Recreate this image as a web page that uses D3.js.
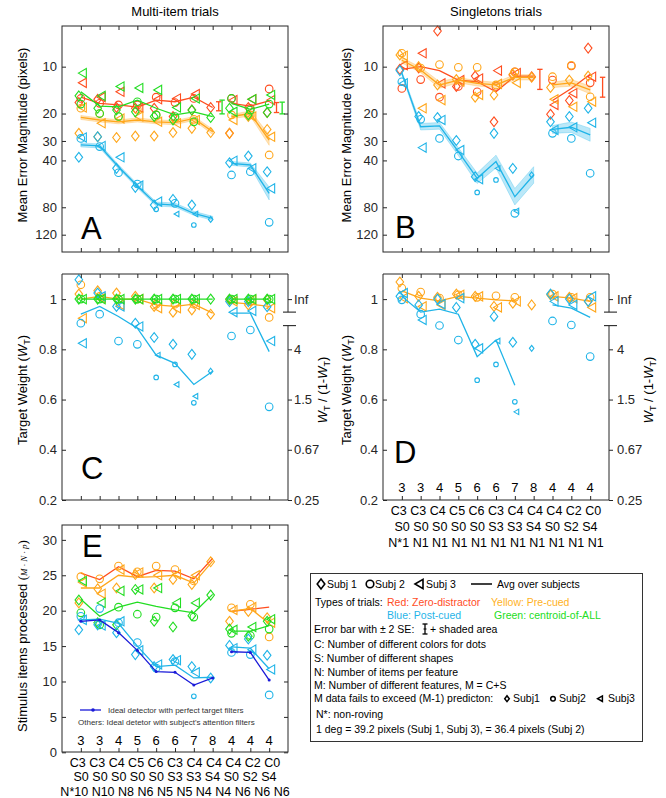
<!DOCTYPE html>
<html><head><meta charset="utf-8">
<script src="https://cdn.jsdelivr.net/npm/d3@7"></script>
<style>
body{margin:0;background:#fff}
svg{display:block}
text{font-family:"Liberation Sans",Arial,Helvetica,sans-serif}
</style>
</head><body>
<svg id="chart" width="666" height="798"></svg>
<script>
// ---------- categories / tick labels ----------
const catM = ["3","3","4","5","6","6","7","8","4","4","4"];
const catC = ["C3","C3","C4","C5","C6","C3","C4","C4","C4","C2","C0"];
const catS = ["S0","S0","S0","S0","S0","S3","S3","S4","S0","S2","S4"];
const catNmulti = ["N*10","N10","N8","N6","N5","N5","N4","N4","N6","N6","N6"];
const catNsingle = ["N*1","N1","N1","N1","N1","N1","N1","N1","N1","N1","N1"];
const errTicks = [10,20,30,40,80,120];
const wTicks = [0.2,0.4,0.6,0.8,1];
const wTickLabels = ["0.2","0.4","0.6","0.8","1"];
const ratioTickLabels = ["0.25","0.67","1.5","4","Inf"];
const itemTicks = [0,5,10,15,20,25,30];

// ---------- Panel A: multi-item, mean error magnitude (pixels) ----------
const A_red_s1 = [17.0,16.2,18.3,18.5,18.5,20.9,19.0,18.3,26.8,18.3,19.7];
const A_red_s2 = [16.0,17.2,17.6,17.6,15.7,17.0,16.0,null,16.0,18.5,13.9];
const A_red_s3 = [12.7,15.7,14.5,18.3,16.2,16.0,15.0,null,16.4,16.2,16.4];
const A_red_avg = [15.7,17.2,17.6,18.2,16.4,16.8,15.7,18.3,17.2,17.9,16.6];
const A_yel_s1 = [26.8,28.2,28.5,27.9,27.9,26.5,24.9,26.5,26.8,20.9,25.3];
const A_yel_s2 = [18.5,20.0,20.9,18.8,20.4,21.5,21.8,null,20.4,20.4,36.9];
const A_yel_s3 = [18.3,23.1,21.5,20.9,22.6,23.1,22.0,null,22.0,20.9,28.2];
const A_yel_avg = [21.2,22.0,22.6,22.0,22.6,22.9,21.5,26.2,20.9,20.0,29.6];
const A_yel_se = [3,3,3,3,3,3,3,4,3,4,8];
const A_blu_s1 = [38.2,28.2,45.0,59.6,77.4,71.2,77.4,95.7,41.4,37.5,47.3];
const A_blu_s2 = [28.9,32.6,48.0,56.7,82.5,75.5,104,null,49.6,47.3,100];
const A_blu_s3 = [28.5,32.3,38.2,58.1,73.6,88.4,88.4,null,40.2,45.0,60.5];
const A_blu_avg = [31.8,32.3,43.9,58.4,76.2,77.4,87.5,94.2,41.8,42.8,65.2];
const A_blu_se = [3,3,3,3,3,3,3,3,3,3,10];
const A_grn_s1 = [15.4,18.5,19.0,19.5,20.9,22.0,19.0,21.2,18.5,20.4,19.7];
const A_grn_s2 = [17.4,20.0,20.9,16.8,20.4,20.9,22.6,null,16.0,19.0,17.4];
const A_grn_s3 = [11.0,15.4,13.4,13.7,14.1,18.3,16.0,null,19.5,16.2,15.2];
const A_grn_avg = [14.5,17.9,18.1,16.4,18.5,20.4,19.5,20.9,17.2,18.8,17.4];
const A_err_red = [[16.8,19.2],[17.0,19.7]];
const A_err_grn = [[16.4,20.1],[16.9,20.1]];
const smallA = ["blu.s2.5","blu.s3.6","blu.s2.7","blu.s3.7","blu.s1.8"];

// ---------- Panel B: singletons, mean error magnitude ----------
const B_red_s1 = [10.4,10.2,5.9,13.4,11.5,22.6,11.3,11.6,20.2,16.5,7.6];
const B_red_s2 = [13.8,12.1,15.7,13.4,14.5,13.4,10.8,null,12.2,9.9,12.7];
const B_red_s3 = [9.8,8.2,12.8,12.2,11.9,10.6,11.0,null,17.6,14.8,11.6];
const B_red_avg = [10.4,10.0,10.6,12.2,12.5,14.5,11.5,11.5,16.5,13.8,11.2];
const B_yel_s1 = [8.4,10.0,13.1,12.1,15.7,15.2,11.2,11.7,13.6,12.2,11.5];
const B_yel_s2 = [8.2,10.2,9.7,10.1,10.1,13.1,10.8,null,11.6,9.8,15.6];
const B_yel_s3 = [8.5,18.5,16.4,12.5,15.2,12.9,12.7,null,16.2,18.1,16.8];
const B_yel_avg = [9.1,10.5,13.1,12.2,12.8,13.1,11.7,11.7,13.1,12.7,14.1];
const B_yel_se = [4,4,5,4,4,4,4,4,4,5,6];
const B_blu_s1 = [10.6,20.9,21.2,29.8,50.9,26.8,45.0,49.6,22.6,20.9,18.5];
const B_blu_s2 = [12.5,21.8,28.9,37.5,64.2,53.4,87.5,null,26.8,28.9,48.4];
const B_blu_s3 = [12.8,33.1,22.0,34.3,52.8,45.0,84.5,null,25.5,24.5,22.9];
const B_blu_avg = [11.0,24.3,24.0,35.1,52.1,40.7,68.4,49.6,25.3,24.5,27.4];
const B_blu_se = [2.5,5,5,6,8,10,13,13,6,8,10];
const B_err_red = [[10.4,14.0],[11.7,15.7]];
const smallB = ["blu.s2.5","blu.s2.6","blu.s3.6","blu.s3.7","blu.s1.8"];

// ---------- Panel C: multi-item, target weight ----------
const C_yel_s1 = [1.02,1.033,1.024,1.011,0.971,0.948,0.957,0.94,0.997,0.977,0.997];
const C_yel_s2 = [1.057,1.011,1.0,1.0,0.98,0.98,0.98,null,0.997,0.99,0.927];
const C_yel_s3 = [0.924,1.004,0.977,1.0,0.964,0.964,0.977,null,0.991,0.997,0.964];
const C_yel_avg = [1.0,1.011,1.0,1.0,0.977,0.971,0.98,0.944,0.987,0.98,0.971];
const C_blu_s1 = [1.077,1.024,0.971,0.904,0.847,0.82,0.78,0.713,0.99,0.99,0.97];
const C_blu_s2 = [0.904,0.94,0.833,0.82,0.688,0.74,0.587,null,0.853,0.877,0.571];
const C_blu_s3 = [0.824,1.011,0.971,0.891,0.777,0.66,0.613,null,0.948,0.953,0.833];
const C_blu_avg = [0.94,0.971,0.931,0.884,0.777,0.744,0.66,0.713,0.944,0.944,0.791];
const C_grn_s1 = [1,1,1,1,1,1,1,1,1,1,1];
const C_grn_s2 = [1,1,1,1,1,1,1,null,1,1,1];
const C_grn_s3 = [1,1,1,1,1,1,1,null,1,1,1];
const C_grn_avg = [1,1,1,1,1,1,1,1,1,1,1];
const smallC = ["blu.s2.5","blu.s3.5","blu.s2.6","blu.s3.6","blu.s2.7","blu.s3.7","blu.s1.8"];

// ---------- Panel D: singletons, target weight ----------
const D_yel_s1 = [1.068,1.011,1.007,1.02,1.011,0.971,0.984,0.977,1.017,1.007,0.991];
const D_yel_s2 = [1.044,1.028,1.004,1.017,1.007,1.013,1.007,null,1.02,1.007,1.007];
const D_yel_s3 = [1.004,0.971,0.977,1.017,1.011,0.967,0.991,null,1.011,1.004,0.967];
const D_yel_avg = [1.033,1.004,0.993,1.011,1.004,0.997,0.993,null,1.011,1.004,0.991];
const D_blu_s1 = [1.011,0.977,1.0,0.967,0.82,0.931,0.828,0.804,1.02,1.0,0.991];
const D_blu_s2 = [0.997,0.94,0.895,0.837,0.677,0.74,0.591,null,0.913,0.897,0.771];
const D_blu_s3 = [1.024,0.917,0.98,1.004,0.804,0.833,0.551,null,0.991,0.977,1.011];
const D_blu_avg = [1.011,0.948,0.96,0.94,0.771,0.837,0.657,null,0.977,0.964,0.927];
const smallD = ["blu.s2.5","blu.s2.6","blu.s3.6","blu.s2.7","blu.s3.7","blu.s1.8"];

// ---------- Panel E: stimulus items processed ----------
const E_red_avg = [25.3,24.4,26.2,24.8,25.7,25.6,24.5,27.4,19.9,20.2,20.5];
const E_yel_s1 = [21.1,23.1,23.2,25.1,23.2,24.4,23.7,26.9,18.5,19.9,19.0];
const E_yel_s2 = [24.8,24.5,26.3,25.5,26.3,25.8,24.2,null,20.4,20.9,16.3];
const E_yel_s3 = [24.0,22.4,25.8,25.4,25.0,25.1,25.0,null,20.1,20.5,18.3];
const E_yel_avg = [23.2,23.2,25.0,24.7,24.8,25.0,23.9,27.0,19.9,20.3,18.2];
const E_grn_s1 = [21.5,18.3,18.0,23.0,18.5,17.7,19.3,22.2,17.4,16.4,18.5];
const E_grn_s2 = [19.7,18.0,20.5,19.5,19.1,20.4,19.1,null,16.8,16.5,17.4];
const E_grn_s3 = [24.2,21.1,22.8,23.0,23.2,21.1,21.1,null,17.3,17.7,18.8];
const E_grn_avg = [21.6,19.2,20.5,21.2,20.6,20.1,19.7,22.3,17.1,17.1,17.9];
const E_blu_s1 = [17.3,18.0,16.9,13.8,12.1,13.1,12.1,10.5,15.1,16.0,13.7];
const E_blu_s2 = [19.2,20.3,18.3,15.5,11.9,12.8,7.9,null,14.1,13.8,8.1];
const E_blu_s3 = [18.7,17.9,18.5,14.4,12.4,13.0,11.3,null,14.7,14.5,11.7];
const E_blu_avg = [18.7,18.8,18.2,15.0,12.1,12.3,10.5,10.6,14.9,14.7,11.8];
const E_ideal = [18.5,18.7,16.9,14.4,11.4,11.3,9.5,10.5,14.2,14.1,10.2];
const smallE = ["blu.s2.7"];

// ---------- styling ----------
const COL = {red:"#ff4d1f", yel:"#ffa61a", blu:"#1fb4e8", grn:"#22dd22", ideal:"#1a1ad8"};
const AX = "#262626";
const svg = d3.select("#chart");
const idx = d3.range(1,12);
const SEGS = [[0,8],[8,11]];
const OFF = {d:-2, c:0, t:1.5};

function markerPath(type, small){
  const k = small ? 0.6 : 1;
  if(type==="d"){const w=3.8*k,h=4.9*k;return `M0,${-h}L${w},0L0,${h}L${-w},0Z`;}
  if(type==="t"){const w=4*k,h=4.6*k;return `M${-w},0L${w},${-h}L${w},${h}Z`;}
  return null;
}
function drawMarker(g, cx, cy, type, small, col, sw){
  if(type==="c"){
    g.append("circle").attr("cx",cx).attr("cy",cy).attr("r",small?2.3:3.8)
      .attr("fill","none").attr("stroke",col).attr("stroke-width",sw||1.1);
  } else {
    g.append("path").attr("transform",`translate(${cx},${cy})`).attr("d",markerPath(type,small))
      .attr("fill","none").attr("stroke",col).attr("stroke-width",sw||1.1).attr("stroke-linejoin","miter");
  }
}

function drawSeries(g, x, y, s, smallSet, isLog){
  const col = COL[s.c];
  if(s.se){
    SEGS.forEach(([a,b])=>{
      const pts = d3.range(a,b).filter(i=>s.avg[i]!=null).map(i=>({i,v:s.avg[i],k:s.se[i]/100}));
      const area = d3.area().x(d=>x(d.i+1))
        .y0(d=>y(isLog? d.v/(1+d.k) : d.v*(1-d.k))).y1(d=>y(d.v*(1+d.k)));
      g.append("path").datum(pts).attr("d",area).attr("fill",col).attr("fill-opacity",0.3)
        .attr("stroke",col).attr("stroke-opacity",0.45).attr("stroke-width",0.6);
    });
  }
  if(s.s){
    ["d","c","t"].forEach((m,si)=>{
      const arr = s.s[si];
      arr.forEach((v,i)=>{
        if(v==null) return;
        const sm = smallSet.includes(`${s.c}.s${si+1}.${i+1}`);
        drawMarker(g, x(i+1)+OFF[m], y(v), m, sm, col);
      });
    });
  }
  SEGS.forEach(([a,b])=>{
    const pts = d3.range(a,b).filter(i=>s.avg[i]!=null).map(i=>({i,v:s.avg[i]}));
    g.append("path").datum(pts).attr("d",d3.line().x(d=>x(d.i+1)).y(d=>y(d.v)))
      .attr("fill","none").attr("stroke",col).attr("stroke-width",1.3);
    if(s.dots){
      pts.forEach(d=>g.append("circle").attr("cx",x(d.i+1)).attr("cy",y(d.v)).attr("r",1.5).attr("fill",col));
    }
  });
}

function styleAxis(sel){
  sel.select(".domain").remove();
  sel.selectAll("line").attr("stroke",AX).attr("stroke-width",1);
  sel.selectAll("text").attr("fill",AX).attr("font-size",13)
    .attr("font-family",'"Liberation Sans",Arial,sans-serif');
}

function panel(p){
  const g = svg.append("g");
  const x = d3.scaleLinear().domain([0,12]).range([p.x0,p.x0+p.w]);
  const y = p.y;
  const x1 = p.x0+p.w, yb = p.y0+p.h;
  p.series.forEach(s=>drawSeries(g,x,y,s,p.small,p.log));
  (p.err||[]).forEach(e=>{
    e.v.forEach((lh,k)=>{
      const xx = x((k===0?8:11)+e.off[k]);
      const ya=y(lh[0]), yb2=y(lh[1]);
      g.append("line").attr("x1",xx).attr("x2",xx).attr("y1",ya).attr("y2",yb2).attr("stroke",COL[e.c]).attr("stroke-width",1.3);
      [ya,yb2].forEach(yy=>g.append("line").attr("x1",xx-2.7).attr("x2",xx+2.7).attr("y1",yy).attr("y2",yy).attr("stroke",COL[e.c]).attr("stroke-width",1.3));
    });
  });
  g.append("g").attr("transform",`translate(${p.x0},0)`)
    .call(d3.axisLeft(y).tickValues(p.ticks).tickFormat((d,i)=>p.tickLabels[i]).tickSize(-4).tickPadding(5))
    .call(styleAxis);
  g.append("g").attr("transform",`translate(0,${p.y0})`)
    .call(d3.axisTop(x).tickValues(idx).tickFormat("").tickSize(-4)).call(styleAxis);
  g.append("g").attr("transform",`translate(0,${yb})`)
    .call(d3.axisBottom(x).tickValues(idx).tickFormat("").tickSize(-4)).call(styleAxis);
  if(p.ratio){
    g.append("g").attr("transform",`translate(${x1},0)`)
      .call(d3.axisRight(y).tickValues(p.ticks).tickFormat((d,i)=>ratioTickLabels[i]).tickSize(4).tickPadding(p.ratioPad))
      .call(styleAxis);
    const b1 = y(1)+13, b2 = y(1)+26.5;
    g.append("line").attr("x1",p.x0).attr("x2",x1).attr("y1",p.y0).attr("y2",p.y0).attr("stroke",AX);
    g.append("line").attr("x1",p.x0).attr("x2",x1).attr("y1",yb).attr("y2",yb).attr("stroke",AX);
    g.append("line").attr("x1",p.x0).attr("x2",p.x0).attr("y1",p.y0).attr("y2",yb).attr("stroke",AX);
    g.append("line").attr("x1",x1).attr("x2",x1).attr("y1",p.y0).attr("y2",b1).attr("stroke",AX);
    g.append("line").attr("x1",x1).attr("x2",x1).attr("y1",b2).attr("y2",yb).attr("stroke",AX);
    [b1,b2].forEach(bb=>g.append("line").attr("x1",x1-5).attr("x2",x1+8).attr("y1",bb).attr("y2",bb).attr("stroke",AX).attr("stroke-width",1.1));
  } else {
    g.append("g").attr("transform",`translate(${x1},0)`)
      .call(d3.axisRight(y).tickValues(p.ticks).tickFormat("").tickSize(-4)).call(styleAxis);
    g.append("rect").attr("x",p.x0).attr("y",p.y0).attr("width",p.w).attr("height",p.h)
      .attr("fill","none").attr("stroke",AX).attr("stroke-width",1);
  }
  g.append("text").attr("x",p.lx).attr("y",p.ly).attr("font-size",31).attr("fill","#000").text(p.letter);
  if(p.cats){
    catM.forEach((m,i)=>g.append("text").attr("x",x(i+1)).attr("y",p.catY).attr("text-anchor","middle")
      .attr("font-size",13).attr("fill","#000").text(m));
    // category description rows, each written as one line of text centred under the panel
    [catC,catS,p.catN].forEach((row,r)=>g.append("text").attr("x",x(6)).attr("y",p.rowY[r])
      .attr("text-anchor","middle").attr("font-size",12.5).attr("fill","#000")
      .attr("xml:space","preserve").text(row.join(" ")));
  }
  return {g,x,y};
}

const yW = y0 => d3.scaleLinear().domain([0.2,1.1]).range([y0+226,y0]);

panel({x0:62,y0:26,w:226,h:226,y:d3.scaleLog().domain([5.48,155]).range([26,252]),log:true,ticks:errTicks,tickLabels:errTicks.map(String),
  series:[
    {c:"red",s:[A_red_s1,A_red_s2,A_red_s3],avg:A_red_avg},
    {c:"yel",s:[A_yel_s1,A_yel_s2,A_yel_s3],avg:A_yel_avg,se:A_yel_se},
    {c:"blu",s:[A_blu_s1,A_blu_s2,A_blu_s3],avg:A_blu_avg,se:A_blu_se},
    {c:"grn",s:[A_grn_s1,A_grn_s2,A_grn_s3],avg:A_grn_avg}],
  err:[{c:"red",v:A_err_red,off:[0.32,0.39]},{c:"grn",v:A_err_grn,off:[0.5,0.69]}],
  small:smallA,letter:"A",lx:81,ly:239});

panel({x0:383,y0:26,w:226,h:226,y:d3.scaleLog().domain([5.48,155]).range([26,252]),log:true,ticks:errTicks,tickLabels:errTicks.map(String),
  series:[
    {c:"red",s:[B_red_s1,B_red_s2,B_red_s3],avg:B_red_avg},
    {c:"yel",s:[B_yel_s1,B_yel_s2,B_yel_s3],avg:B_yel_avg,se:B_yel_se},
    {c:"blu",s:[B_blu_s1,B_blu_s2,B_blu_s3],avg:B_blu_avg,se:B_blu_se}],
  err:[{c:"red",v:B_err_red,off:[0.33,0.66]}],
  small:smallB,letter:"B",lx:395,ly:238});

panel({x0:62,y0:274,w:226,h:226,y:yW(274),ticks:wTicks,tickLabels:wTickLabels,ratio:true,ratioPad:2,
  series:[
    {c:"yel",s:[C_yel_s1,C_yel_s2,C_yel_s3],avg:C_yel_avg},
    {c:"blu",s:[C_blu_s1,C_blu_s2,C_blu_s3],avg:C_blu_avg},
    {c:"grn",s:[C_grn_s1,C_grn_s2,C_grn_s3],avg:C_grn_avg}],
  small:smallC,letter:"C",lx:81,ly:479});

panel({x0:383,y0:274,w:226,h:226,y:yW(274),ticks:wTicks,tickLabels:wTickLabels,ratio:true,ratioPad:4,
  series:[
    {c:"yel",s:[D_yel_s1,D_yel_s2,D_yel_s3],avg:D_yel_avg},
    {c:"blu",s:[D_blu_s1,D_blu_s2,D_blu_s3],avg:D_blu_avg}],
  small:smallD,letter:"D",lx:394,ly:463,
  cats:true,catY:492,rowY:[515,530.5,546.5],catN:catNsingle});

panel({x0:62,y0:525,w:226,h:227,y:d3.scaleLinear().domain([0,32.1]).range([752.3,525]),ticks:itemTicks,tickLabels:itemTicks.map(String),
  series:[
    {c:"red",avg:E_red_avg},
    {c:"yel",s:[E_yel_s1,E_yel_s2,E_yel_s3],avg:E_yel_avg},
    {c:"grn",s:[E_grn_s1,E_grn_s2,E_grn_s3],avg:E_grn_avg},
    {c:"blu",s:[E_blu_s1,E_blu_s2,E_blu_s3],avg:E_blu_avg},
    {c:"ideal",avg:E_ideal,dots:true}],
  small:smallE,letter:"E",lx:82,ly:557,
  cats:true,catY:745,rowY:[767,781,795.5],catN:catNmulti});

// ---------- titles & axis labels ----------
svg.append("text").attr("x",175).attr("y",16).attr("text-anchor","middle").attr("font-size",13).attr("fill","#000").text("Multi-item trials");
svg.append("text").attr("x",496).attr("y",16).attr("text-anchor","middle").attr("font-size",13).attr("fill","#000").text("Singletons trials");

function vlabel(cx, cy, build){
  const t = svg.append("text").attr("transform",`translate(${cx},${cy}) rotate(-90)`)
    .attr("text-anchor","middle").attr("dy","0.35em").attr("font-size",13).attr("fill","#000");
  build(t);
}
[22,346].forEach(cx=>vlabel(cx,135,t=>t.text("Mean Error Magnitude (pixels)")));
function wlabel(t){
  t.append("tspan").text("Target Weight (");
  t.append("tspan").attr("font-style","italic").text("W");
  t.append("tspan").attr("font-size",9).attr("dy","3").text("T");
  t.append("tspan").attr("dy","-3").text(")");
}
function rlabel(t){
  t.append("tspan").attr("font-style","italic").text("W");
  t.append("tspan").attr("font-size",9).attr("dy","3").text("T");
  t.append("tspan").attr("dy","-3").text(" / (1-");
  t.append("tspan").attr("font-style","italic").text("W");
  t.append("tspan").attr("font-size",9).attr("dy","3").text("T");
  t.append("tspan").attr("dy","-3").text(")");
}
[22,346].forEach(cx=>vlabel(cx,390,wlabel));
[322,648].forEach(cx=>vlabel(cx,390,rlabel));
vlabel(22,636,t=>{
  t.append("tspan").text("Stimulus items processed ");
  t.append("tspan").attr("font-family",'"Liberation Serif","DejaVu Serif",serif').text("(");
  t.append("tspan").attr("font-family",'"Liberation Serif","DejaVu Serif",serif').attr("font-style","italic").attr("font-size",9).text("M · N · p");
  t.append("tspan").attr("font-family",'"Liberation Serif","DejaVu Serif",serif').text(")");
});

// ---------- inner legend of E ----------
svg.append("line").attr("x1",80).attr("x2",101).attr("y1",710).attr("y2",710).attr("stroke",COL.ideal).attr("stroke-width",1.3);
svg.append("circle").attr("cx",93).attr("cy",710).attr("r",1.8).attr("fill",COL.ideal);
svg.append("text").attr("x",108).attr("y",713).attr("font-size",8).attr("fill","#333").text("Ideal detector with perfect target filters");
svg.append("text").attr("x",78).attr("y",725).attr("font-size",8).attr("fill","#333").text("Others: Ideal detetor with subject's attention filters");

// ---------- legend box ----------
const L = svg.append("g");
L.append("rect").attr("x",310.5).attr("y",573.5).attr("width",332).attr("height",168).attr("fill","#fff").attr("stroke","#333").attr("stroke-width",1);
const FS = 10.5;
function lt(xx, yy, txt, col){ return L.append("text").attr("x",xx).attr("y",yy).attr("font-size",FS).attr("fill",col||"#000").text(txt); }
drawMarker(L,321,584,"d",false,"#000",1.6); lt(327,588,"Subj 1");
drawMarker(L,370,584,"c",false,"#000",1.6); lt(375,588,"Subj 2");
drawMarker(L,419,584,"t",false,"#000",1.6); lt(426,588,"Subj 3");
L.append("line").attr("x1",471).attr("x2",492).attr("y1",584).attr("y2",584).attr("stroke","#000").attr("stroke-width",1.5);
lt(497,588,"Avg over subjects");
lt(315,605.5,"Types of trials: ");
lt(387,605.5,"Red: Zero-distractor",COL.red);
lt(491,605.5,"Yellow: Pre-cued","#ffb21e");
lt(387,618.5,"Blue: Post-cued",COL.blu);
lt(494,618.5,"Green: centroid-of-ALL",COL.grn);
lt(314,632.5,"Error bar with ± 2 SE:");
L.append("line").attr("x1",425).attr("x2",425).attr("y1",624).attr("y2",634).attr("stroke","#000").attr("stroke-width",1.3);
[624,634].forEach(yy=>L.append("line").attr("x1",422.5).attr("x2",427.5).attr("y1",yy).attr("y2",yy).attr("stroke","#000").attr("stroke-width",1.3));
L.append("line").attr("x1",423.5).attr("x2",426.5).attr("y1",629).attr("y2",629).attr("stroke","#000").attr("stroke-width",1);
lt(430,632.5,"+ shaded area");
lt(314,647.5,"C: Number of different colors for dots");
lt(314,661.8,"S: Number of different shapes");
lt(314,675.5,"N: Number of items per feature");
lt(314,688.8,"M: Number of different features, M = C+S");
lt(314,702.2,"M data fails to exceed (M-1) predicton:");
drawMarker(L,507,698.7,"d",true,"#000",1.5); lt(513,702.2,"Subj1");
drawMarker(L,553,698.7,"c",true,"#000",1.5); lt(559,702.2,"Subj2");
drawMarker(L,600,698.7,"t",true,"#000",1.5); lt(608,702.2,"Subj3");
lt(316,717.5,"N*: non-roving");
lt(316,732.8,"1 deg = 39.2 pixels (Subj 1, Subj 3), = 36.4 pixels (Subj 2)");
</script>
</body></html>
